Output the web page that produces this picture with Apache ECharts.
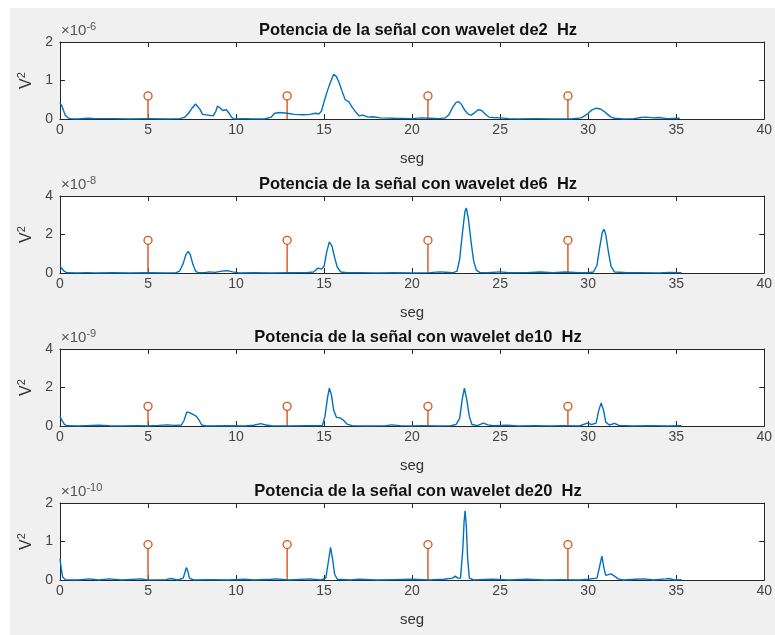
<!DOCTYPE html>
<html lang="es">
<head>
<meta charset="UTF-8">
<title>Potencia de la señal</title>
<script src="https://cdn.jsdelivr.net/npm/echarts@6/dist/echarts.min.js"></script>
<style>
    html, body { margin: 0; padding: 0; background: #fff; }
    #main { width: 775px; height: 635px; }
</style>
</head>
<body>
<div id="main"></div>
<script type="text/javascript">
    // señales (V^2, escaladas por el exponente de cada panel)
    var sig2Hz = [[0,0.42],[0.1,0.35],[0.2,0.22],[0.3,0.1],[0.45,0.03],[0.6,0.01],[1.0,0],[1.6,0.02],[2.0,0.01],[3.0,0.01],[4.0,0],[5.0,0.01],[6.0,0],[6.8,0.01],[7.1,0.05],[7.3,0.15],[7.5,0.28],[7.7,0.39],[7.8,0.38],[7.95,0.25],[8.1,0.12],[8.4,0.1],[8.7,0.08],[8.85,0.2],[8.95,0.34],[9.1,0.28],[9.25,0.22],[9.45,0.24],[9.6,0.15],[9.75,0.04],[9.9,0],[10.5,0.01],[11.0,0],[11.6,0],[12.0,0.05],[12.2,0.15],[12.5,0.17],[12.9,0.15],[13.3,0.12],[13.8,0.11],[14.2,0.12],[14.5,0.15],[14.7,0.13],[14.85,0.2],[15.0,0.45],[15.2,0.75],[15.4,1.0],[15.55,1.16],[15.7,1.1],[15.85,0.95],[16.0,0.75],[16.2,0.5],[16.4,0.45],[16.6,0.3],[16.8,0.18],[17.0,0.08],[17.2,0.1],[17.5,0.05],[17.8,0.06],[18.2,0.03],[19.0,0.02],[20.0,0.01],[20.5,0.03],[21.0,0.02],[21.5,0.01],[21.9,0.03],[22.1,0.12],[22.3,0.3],[22.5,0.43],[22.65,0.45],[22.8,0.38],[23.0,0.22],[23.2,0.12],[23.35,0.1],[23.55,0.16],[23.75,0.24],[23.95,0.22],[24.15,0.13],[24.35,0.05],[24.6,0.04],[25.0,0.03],[25.5,0.01],[26.0,0],[27.0,0.01],[28.0,0],[29.0,0],[29.6,0.03],[29.8,0.08],[30.0,0.15],[30.2,0.23],[30.45,0.28],[30.7,0.26],[30.9,0.2],[31.1,0.12],[31.3,0.05],[31.5,0.02],[32.0,0],[32.6,0.01],[33.0,0.04],[33.3,0.05],[33.7,0.03],[34.0,0.04],[34.5,0.01],[35.2,0.02]];

    var sig6Hz = [[0,0.35],[0.1,0.25],[0.25,0.08],[0.4,0.01],[1,0],[1.5,0.02],[2,0],[3,0.01],[4,0],[5,0.01],[6,0],[6.6,0.02],[6.8,0.1],[7.0,0.5],[7.15,0.95],[7.28,1.12],[7.4,0.95],[7.55,0.45],[7.7,0.1],[7.85,0.01],[8.2,0.02],[8.5,0.06],[8.8,0.03],[9.2,0.1],[9.5,0.12],[9.8,0.06],[10.2,0],[11,0.01],[12,0],[13,0.01],[14,0.02],[14.4,0.05],[14.65,0.25],[14.85,0.2],[15.0,0.35],[15.15,1.1],[15.3,1.62],[15.45,1.4],[15.6,0.8],[15.75,0.3],[15.95,0.05],[16.3,0.01],[17,0.02],[18,0],[19,0.01],[20,0],[21,0.02],[21.6,0.06],[21.9,0.04],[22.3,0.01],[22.55,0.1],[22.7,0.7],[22.85,2.0],[23.0,3.2],[23.08,3.38],[23.2,2.8],[23.35,1.6],[23.5,0.6],[23.65,0.15],[23.85,0.02],[24.3,0.01],[25,0.06],[25.5,0.01],[26.5,0.02],[27.3,0.05],[28,0.01],[28.7,0.05],[29.5,0.02],[30,0.01],[30.3,0.05],[30.5,0.4],[30.65,1.3],[30.8,2.1],[30.9,2.28],[31.0,2.0],[31.15,1.1],[31.3,0.35],[31.5,0.05],[31.8,0.04],[32.2,0.01],[33,0.02],[34,0],[34.6,0.03],[35.3,0.01]];

    var sig10Hz = [[0,0.5],[0.1,0.3],[0.25,0.08],[0.4,0.01],[1,0],[1.5,0.02],[2.2,0.04],[2.8,0.01],[3.5,0],[4.5,0.02],[5.0,0],[5.6,0.03],[6.1,0.06],[6.5,0.03],[6.9,0.05],[7.05,0.3],[7.2,0.72],[7.35,0.7],[7.55,0.6],[7.75,0.5],[7.9,0.3],[8.05,0.05],[8.3,0],[9.5,0.01],[10.5,0],[11.0,0.04],[11.4,0.12],[11.7,0.05],[12.0,0.01],[13,0],[14,0.01],[14.9,0.02],[15.05,0.5],[15.2,1.5],[15.3,1.97],[15.42,1.6],[15.55,0.8],[15.7,0.45],[15.9,0.42],[16.1,0.3],[16.3,0.1],[16.6,0.02],[17.5,0],[18.5,0.02],[18.85,0.06],[19.3,0.02],[20.0,0],[20.5,0.02],[21.5,0],[22.2,0.02],[22.5,0.08],[22.7,0.4],[22.85,1.4],[22.97,1.97],[23.1,1.4],[23.25,0.5],[23.4,0.08],[23.7,0.02],[24.05,0.15],[24.3,0.06],[24.6,0.01],[25.4,0.04],[26,0],[27,0.02],[27.8,0],[28.5,0.02],[29.5,0],[29.95,0.15],[30.2,0.08],[30.45,0.15],[30.6,0.8],[30.74,1.2],[30.88,0.8],[31.0,0.2],[31.2,0.05],[31.5,0.14],[31.75,0.03],[32.5,0],[33.5,0.02],[34.5,0],[35.3,0.01]];

    var sig20Hz = [[0,0.55],[0.07,0.3],[0.15,0.08],[0.3,0.01],[1,0],[1.7,0.03],[2.2,0],[2.8,0.03],[3.5,0],[4.6,0.03],[5,0],[6,0.01],[6.3,0.04],[6.7,0],[7.0,0.05],[7.1,0.2],[7.17,0.32],[7.25,0.25],[7.35,0.05],[7.6,0],[8.5,0.01],[9.5,0],[10.5,0.02],[11,0],[12,0.02],[12.3,0.03],[13,0],[14.2,0.03],[14.8,0],[15.1,0.05],[15.25,0.5],[15.37,0.85],[15.48,0.55],[15.6,0.15],[15.75,0.02],[16.5,0],[17,0.02],[18,0],[19,0.01],[20,0.02],[21,0],[21.8,0.02],[22.3,0.05],[22.45,0.1],[22.6,0.05],[22.75,0.05],[22.88,0.8],[22.95,1.5],[23.01,1.8],[23.08,1.4],[23.15,0.6],[23.25,0.05],[23.5,0],[24.5,0.02],[25.5,0],[26.5,0.02],[27.5,0],[28.5,0.01],[29.5,0],[30.0,0.02],[30.5,0.05],[30.65,0.35],[30.78,0.62],[30.9,0.3],[31.0,0.12],[31.15,0.14],[31.3,0.16],[31.5,0.1],[31.7,0.03],[32,0],[32.7,0.02],[33.2,0.03],[33.7,0],[34.4,0.03],[34.6,0.04],[34.9,0],[35.3,0.01]];

    // marcas (stem)
    var stemT = [5.0, 12.9, 20.9, 28.85];
    var stemH = [0.6, 1.7, 1.02, 0.92];

    var freqs = ['2', '6', '10', '20'];
    var exps = ['-6', '-8', '-9', '-10'];
    var yMax = [2, 4, 4, 2];
    var yStep = [1, 2, 2, 1];
    var xTicks = [0, 5, 10, 15, 20, 25, 30, 35, 40];

    var signals = [sig2Hz, sig6Hz, sig10Hz, sig20Hz];
    var gridTops = [42, 196, 349, 503];
    var plotH = 77;
    var font = '"Liberation Sans", Arial, Helvetica, sans-serif';
    var axisCol = '#262626';

    var myChart = echarts.init(document.getElementById('main'));

    var grids = [], xAxes = [], yAxes = [], series = [], titles = [];
    var graphics = [{
        type: 'rect', left: 10, top: 8, z: -10,
        shape: {width: 765, height: 627},
        style: {fill: '#f0f0f0'}
    }];

    for (var i = 0; i < 4; i++) {
        grids.push({left: 60, right: 8, top: gridTops[i], height: plotH, backgroundColor: '#fff', show: true, borderWidth: 0});

        var xBase = {
            gridIndex: i, type: 'value', min: 0, max: 40, interval: 5,
            axisLine: {show: true, onZero: false, lineStyle: {color: axisCol, width: 1}},
            axisTick: {show: true, inside: true, length: 5, lineStyle: {color: axisCol}},
            splitLine: {show: false}
        };
        xAxes.push(Object.assign({}, xBase, {
            position: 'bottom',
            name: 'seg', nameLocation: 'middle', nameGap: 32,
            nameTextStyle: {color: '#333', fontSize: 15, fontFamily: font},
            axisLabel: {show: true, color: '#444', fontSize: 14, fontFamily: font, margin: 4,
                formatter: function (v) { return xTicks.indexOf(v) >= 0 ? String(v) : ''; }}
        }));
        xAxes.push(Object.assign({}, xBase, {position: 'top', axisLabel: {show: false}}));

        var yBase = {
            gridIndex: i, type: 'value', min: 0, max: yMax[i], interval: yStep[i],
            axisLine: {show: true, onZero: false, lineStyle: {color: axisCol, width: 1}},
            axisTick: {show: true, inside: true, length: 5, lineStyle: {color: axisCol}},
            splitLine: {show: false}
        };
        yAxes.push(Object.assign({}, yBase, {
            position: 'left',
            name: 'V{s|2}', nameLocation: 'middle', nameGap: 22, nameRotate: 90,
            nameTextStyle: {color: '#333', fontSize: 16, fontFamily: font,
                rich: {s: {fontSize: 11, fontFamily: font, color: '#333', padding: [0, 0, 9, 0]}}},
            axisLabel: {show: true, color: '#444', fontSize: 14, fontFamily: font, margin: 7}
        }));
        yAxes.push(Object.assign({}, yBase, {position: 'right', axisLabel: {show: false}}));

        titles.push({
            text: 'Potencia de la señal con wavelet de' + freqs[i] + '  Hz',
            left: 413, top: gridTops[i] - 25, textAlign: 'center',
            textStyle: {color: '#111', fontSize: 16.5, fontWeight: 'bold', fontFamily: font}
        });

        graphics.push({
            type: 'text', left: 61, top: gridTops[i] - 21,
            style: {
                text: '×10{s|' + exps[i] + '}',
                fill: '#555', font: '15px ' + font,
                rich: {s: {fontSize: 11, fontFamily: font, fill: '#555', padding: [0, 0, 9, 0]}}
            }
        });

        series.push({
            type: 'line', xAxisIndex: 2 * i, yAxisIndex: 2 * i,
            data: signals[i], showSymbol: false, clip: true,
            lineStyle: {color: '#0072BD', width: 1.4},
            itemStyle: {color: '#0072BD'}
        });

        var stems = [];
        for (var k = 0; k < stemT.length; k++) stems.push([stemT[k], stemH[i]]);
        series.push({
            type: 'custom', xAxisIndex: 2 * i, yAxisIndex: 2 * i,
            data: stems,
            renderItem: function (params, api) {
                var base = api.coord([api.value(0), 0]);
                var top = api.coord([api.value(0), api.value(1)]);
                return {
                    type: 'group',
                    children: [{
                        type: 'line',
                        shape: {x1: base[0], y1: base[1], x2: top[0], y2: top[1] + 3.8},
                        style: {stroke: '#D95319', lineWidth: 1.4}
                    }, {
                        type: 'circle',
                        shape: {cx: top[0], cy: top[1], r: 4},
                        style: {stroke: '#D95319', fill: 'none', lineWidth: 1.3}
                    }]
                };
            }
        });
    }

    var option = {
        animation: false,
        backgroundColor: '#fff',
        title: titles,
        grid: grids,
        xAxis: xAxes,
        yAxis: yAxes,
        graphic: graphics,
        series: series
    };

    myChart.setOption(option);
</script>
</body>
</html>
